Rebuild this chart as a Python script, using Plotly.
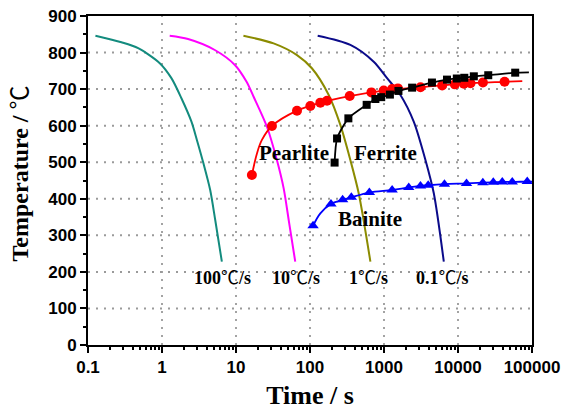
import numpy as np
import plotly.graph_objects as go

# Cooling curves (time in s, temperature in °C)
t_100 = [0.126, 0.283, 0.476, 0.933, 1.34, 1.83, 2.50, 2.96, 3.63, 4.48, 5.24, 6.44]
T_100 = [846, 828, 812, 771, 730, 675, 611, 561, 497, 424, 342, 228]

t_10 = [1.27, 2.25, 5.17, 9.66, 13.9, 17.3, 26.2, 35.7, 44.0, 52.0, 63.2]
T_10 = [846, 837, 807, 766, 720, 679, 597, 506, 429, 337, 228]

t_1 = [12.6, 32.2, 66.7, 106, 179, 257, 351, 455, 655]
T_1 = [846, 825, 793, 757, 684, 602, 506, 415, 228]

t_01 = [127, 351, 726, 1101, 1667, 2523, 3631, 4710, 6430]
T_01 = [846, 821, 775, 730, 684, 611, 506, 415, 228]

# Transformation start points
t_pearlite = [16.4, 30.6, 66.7, 101, 138, 170, 344, 676, 991, 1288, 1540,
              3112, 6109, 9060, 12000, 14760, 21700, 42600]
T_pearlite = [465, 599, 641, 654, 663, 668, 681, 691, 696, 700, 702,
              705, 710, 713, 715, 716, 718, 720]
t_pearlite_fit = [16.4, 19.2, 22.4, 30.6, 66.7, 138, 344, 991, 3112, 12000, 42600, 73900]
T_pearlite_fit = [465, 524, 561, 599, 641, 663, 681, 696, 705, 715, 720, 722]

t_ferrite = [215, 232, 330, 583, 765, 917, 1202, 1567, 2399, 4446, 7096,
             9635, 12170, 16360, 25630, 59290]
T_ferrite = [499, 565, 620, 657, 673, 678, 685, 695, 704, 718, 726,
             729, 731, 735, 738, 745]
t_ferrite_fit = t_ferrite + [90800]
T_ferrite_fit = T_ferrite + [746]

t_bainite = [110, 192, 276, 362, 634, 1288, 2160, 3112, 3955, 6560, 13030,
             21660, 29980, 39650, 54100, 86300]
T_bainite = [326, 386, 397, 404, 417, 424, 431, 435, 437, 440, 442,
             444, 445, 446, 446, 447]
t_bainite_fit = [110, 138] + t_bainite[1:] + [100000]
T_bainite_fit = [326, 360] + T_bainite[1:] + [447]

x_tickvals = [0.1, 1, 10, 100, 1000, 10000, 100000]
x_ticktext = ["0.1", "1", "10", "100", "1000", "10000", "100000"]
y_tickvals = [0, 100, 200, 300, 400, 500, 600, 700, 800, 900]

X_MIN, X_MAX = 0.1, 100000
Y_MIN, Y_MAX = 0, 900

DEG_C = "<span style='font-family:Noto Sans CJK SC;font-weight:normal'>℃</span>"

fig = go.Figure()

# Dotted grid at the major ticks, drawn as background traces
gx, gy = [], []
for v in x_tickvals[1:-1]:
    gx += [v, v, None]
    gy += [Y_MIN, Y_MAX, None]
fig.add_trace(go.Scatter(x=gx, y=gy, mode="lines",
                         line=dict(color="#9a9a9a", width=1.8, dash="2px,6px"),
                         showlegend=False, hoverinfo="skip"))
hx, hy = [], []
for v in y_tickvals[1:-1]:
    hx += [X_MIN, X_MAX, None]
    hy += [v, v, None]
fig.add_trace(go.Scatter(x=hx, y=hy, mode="lines",
                         line=dict(color="#9a9a9a", width=2, dash="2px,6px"),
                         showlegend=False, hoverinfo="skip"))

curves = [
    (t_100, T_100, "#138B7E"),
    (t_10, T_10, "#FF00FF"),
    (t_1, T_1, "#8B8B00"),
    (t_01, T_01, "#0B0B8A"),
]
for tx, Ty, col in curves:
    fig.add_trace(go.Scatter(x=tx, y=Ty, mode="lines",
                             line=dict(color=col, width=2, shape="spline", smoothing=0.8),
                             showlegend=False, hoverinfo="skip"))

# Fitted lines and markers for phases
fig.add_trace(go.Scatter(x=t_pearlite_fit, y=T_pearlite_fit, mode="lines",
                         line=dict(color="#FF0000", width=1.8, shape="spline"),
                         showlegend=False))
fig.add_trace(go.Scatter(x=t_pearlite, y=T_pearlite, mode="markers",
                         marker=dict(symbol="circle", size=10, color="#FF0000"),
                         showlegend=False))

fig.add_trace(go.Scatter(x=t_ferrite_fit, y=T_ferrite_fit, mode="lines",
                         line=dict(color="#000000", width=1.8, shape="spline", smoothing=0.6),
                         showlegend=False))
fig.add_trace(go.Scatter(x=t_ferrite, y=T_ferrite, mode="markers",
                         marker=dict(symbol="square", size=8, color="#000000"),
                         showlegend=False))

fig.add_trace(go.Scatter(x=t_bainite_fit, y=T_bainite_fit, mode="lines",
                         line=dict(color="#0000FF", width=1.8, shape="spline"),
                         showlegend=False))
fig.add_trace(go.Scatter(x=t_bainite, y=T_bainite, mode="markers",
                         marker=dict(symbol="triangle-up", size=10, color="#0000FF"),
                         showlegend=False))

label_font = dict(family="Liberation Serif, Times New Roman, serif", size=21,
                  color="black", weight="bold")
rate_font = dict(family="Liberation Serif, Times New Roman, serif", size=18,
                 color="black", weight="bold")

phase_labels = [("Pearlite", 60, 525), ("Ferrite", 1062, 525), ("Bainite", 640, 345)]
for txt, tx, Ty in phase_labels:
    fig.add_annotation(x=np.log10(tx), y=Ty, text=txt, showarrow=False,
                       font=label_font, xanchor="center", yanchor="middle")

rate_labels = [("100", 6.5), ("10", 64.3), ("1", 615), ("0.1", 6110)]
for num, tx in rate_labels:
    fig.add_annotation(x=np.log10(tx), y=188, text=num + DEG_C + "/s", showarrow=False,
                       font=rate_font, xanchor="center", yanchor="middle")

tick_font = dict(family="Liberation Sans, Arial, sans-serif", size=17,
                 color="black", weight="bold")
title_font = dict(family="Liberation Serif, Times New Roman, serif", size=26,
                  color="black", weight="bold")
ytitle_font = dict(family="Liberation Serif, Times New Roman, serif", size=24,
                   color="black", weight="bold")

# Y-axis title as a rotated annotation so it can sit close to the page edge
fig.add_annotation(xref="paper", yref="paper", x=-0.158, y=0.521,
                   text="Temperature / " + DEG_C, textangle=-90, showarrow=False,
                   font=ytitle_font, xanchor="center", yanchor="middle")

fig.update_xaxes(
    type="log", range=[-1, 5], automargin=False,
    tickmode="array", tickvals=x_tickvals, ticktext=x_ticktext,
    ticks="outside", ticklen=6, tickwidth=2, tickcolor="black",
    minor=dict(ticks="outside", ticklen=3, tickwidth=1.5, tickcolor="black",
               tickmode="array",
               tickvals=[m * 10.0 ** e for e in range(-1, 5) for m in range(2, 10)],
               showgrid=False),
    showline=True, linewidth=2, linecolor="black", mirror=True,
    showgrid=False, tickfont=tick_font, zeroline=False,
    title=dict(text="Time / s", font=title_font, standoff=19),
)
fig.update_yaxes(
    range=[Y_MIN, Y_MAX], automargin=False,
    tickmode="array", tickvals=y_tickvals,
    ticks="outside", ticklen=6, tickwidth=2, tickcolor="black",
    minor=dict(ticks="outside", ticklen=3, tickwidth=1.5, tickcolor="black",
               dtick=50, showgrid=False),
    showline=True, linewidth=2, linecolor="black", mirror=True,
    showgrid=False, tickfont=tick_font, zeroline=False,
)

fig.update_layout(
    width=564, height=410,
    margin=dict(l=88, r=32, t=16, b=65),
    paper_bgcolor="white", plot_bgcolor="white",
    showlegend=False,
)

fig.write_html("out.html")
